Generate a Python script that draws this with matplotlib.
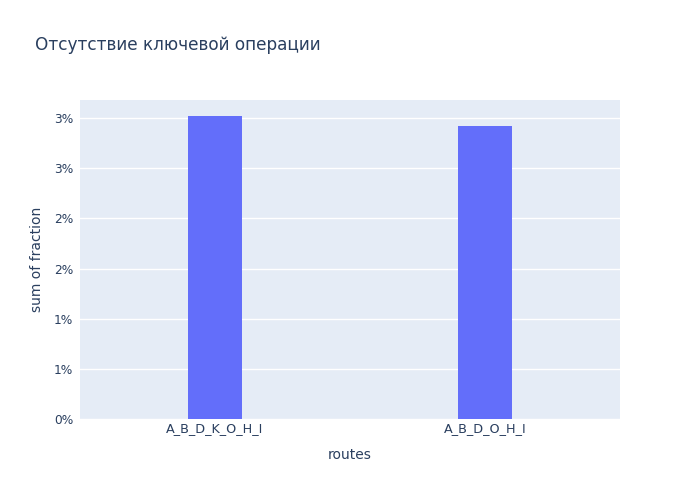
import matplotlib
matplotlib.use("Agg")
from matplotlib import pyplot as plt
import matplotlib.ticker as plticker

## Data
routes = ["A_B_D_K_O_H_I", "A_B_D_O_H_I"]
fraction = [0.0302, 0.0292]
y_ticks = [0, 0.005, 0.01, 0.015, 0.02, 0.025, 0.03]
y_tick_labels = ["0%", "1%", "1%", "2%", "2%", "3%", "3%"]

plt.rcParams['font.family'] = ['DejaVu Sans']
text_col = '#2a3f5f'

fig = plt.figure(figsize=(7, 5), dpi=100)
ax = fig.add_axes([80 / 700, (500 - 419.3) / 500, 540 / 700, 319.3 / 500])
ax.set_facecolor('#E5ECF6')

ax.bar(range(len(routes)), fraction, width=0.2, color='#636EFA', zorder=3)

ax.set_xlim(-0.5, len(routes) - 0.5)
ax.set_ylim(0, 0.0318)
ax.set_xticks(range(len(routes)))
ax.set_xticklabels(routes)
ax.yaxis.set_major_locator(plticker.FixedLocator(y_ticks))
ax.set_yticklabels(y_tick_labels)

ax.grid(axis='y', color='white', linewidth=1, zorder=0)
ax.set_axisbelow(True)
for s in ax.spines.values():
    s.set_visible(False)
ax.tick_params(length=0, labelsize=8.8, colors=text_col)
ax.tick_params(axis='x', pad=2, labelsize=9.2)
ax.tick_params(axis='y', pad=5)

ax.set_xlabel('routes', fontsize=10, color=text_col, labelpad=9)
ax.set_ylabel('sum of fraction', fontsize=10, color=text_col, labelpad=7)

fig.text(35 / 700, 1 - 45 / 500, 'Отсутствие ключевой операции',
         fontsize=12.2, color=text_col, va='center', ha='left')

fig.savefig('out.png', dpi=100)
